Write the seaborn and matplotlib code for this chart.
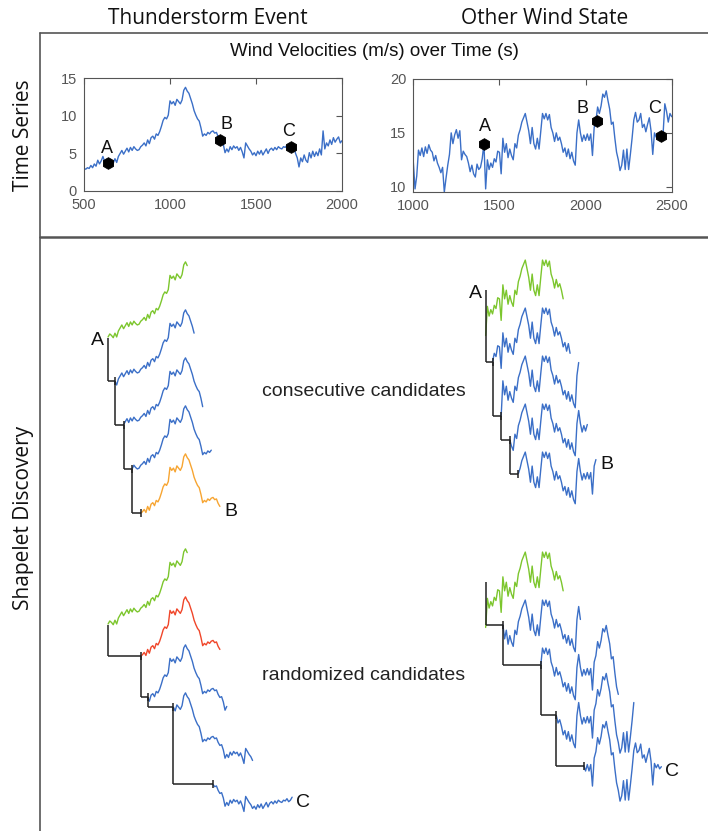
import numpy as np
import pandas as pd
import matplotlib.pyplot as plt
from matplotlib.lines import Line2D
import seaborn as sns

# Wind velocity series (m/s), sampled every 10 s
t_storm = np.arange(500, 2001, 10)
v_storm = [3.0, 2.9, 3.1, 3.0, 3.4, 3.1, 3.6, 3.3, 4.1, 3.6, 4.0,
           4.6, 3.9, 4.1, 3.8, 4.2, 4.0, 3.7, 4.3, 3.8, 4.6,
           5.0, 5.4, 4.9, 5.3, 5.7, 5.2, 5.8, 5.4, 5.9, 5.6,
           5.4, 5.5, 5.9, 6.1, 6.4, 6.0, 6.8, 6.3, 7.1, 7.3,
           6.9, 7.6, 7.4, 7.9, 8.6, 9.4, 9.8, 9.6, 10.1, 12.0,
           11.6, 11.9, 11.4, 12.2, 11.9, 11.6, 12.1, 13.4, 13.8, 13.3,
           13.0, 12.3, 11.6, 10.7, 10.1, 9.6, 9.3, 8.4, 7.3, 7.6,
           7.4, 7.8, 7.6, 7.9, 8.0, 7.7, 7.8, 7.2, 6.8, 6.9,
           6.2, 5.1, 5.6, 5.2, 5.9, 5.5, 6.0, 5.7, 5.9, 5.4,
           5.8, 5.2, 4.4, 6.4, 6.0, 5.6, 5.3, 4.8, 5.1, 4.7,
           5.3, 4.9, 5.4, 4.8, 5.2, 5.6, 5.0, 5.5, 5.7, 5.4,
           5.8, 5.5, 5.9, 5.7, 5.6, 5.9, 5.8, 6.1, 5.7, 5.9,
           6.3, 5.9, 5.0, 4.4, 3.2, 4.4, 3.9, 4.8, 4.1, 3.8,
           5.1, 4.4, 5.3, 4.6, 5.2, 4.7, 5.6, 4.8, 8.0, 5.6,
           6.4, 6.0, 6.8, 6.2, 7.1, 6.5, 6.9, 7.2, 6.4, 6.7]

t_other = np.arange(1000, 2501, 10)
v_other = [12.3, 9.8, 11.0, 13.4, 12.9, 13.6, 12.8, 13.7, 13.1, 13.9, 13.4,
           13.2, 12.4, 12.9, 12.2, 11.8, 11.3, 11.8, 9.5, 10.8, 12.0,
           13.0, 15.0, 14.0, 14.8, 15.3, 14.5, 15.2, 12.5, 13.3, 13.0,
           12.8, 12.2, 11.4, 12.0, 11.2, 10.9, 12.1, 11.6, 11.8, 12.6,
           14.0, 9.8, 12.5, 11.6, 12.2, 11.8, 12.6, 12.3, 13.3, 13.2,
           11.2, 14.5, 13.2, 14.0, 12.7, 13.5, 12.9, 12.5, 14.0, 13.6,
           14.8, 15.3, 16.0, 16.4, 16.8, 16.0, 15.2, 14.0, 15.5, 14.0,
           13.5, 14.5, 13.5, 15.2, 16.8, 16.3, 16.8, 16.2, 16.7, 15.5,
           15.0, 14.2, 15.0, 14.3, 14.6, 14.0, 13.2, 13.6, 12.8, 13.5,
           12.6, 13.2, 12.4, 12.0, 15.0, 16.2, 15.0, 14.2, 14.8, 14.3,
           14.9, 14.3, 14.9, 12.9, 15.5, 16.1, 17.4, 16.8, 17.5, 18.6,
           18.3, 18.9, 18.0, 17.2, 15.8, 16.0, 14.5, 13.2, 12.5, 11.5,
           12.0, 13.4, 11.6, 13.5, 11.6, 13.0, 14.5, 16.2, 16.9, 16.0,
           16.2, 16.8, 15.5, 15.8, 15.1, 15.8, 16.4, 15.2, 13.0, 15.0,
           14.6, 14.9, 14.5, 14.7, 14.9, 17.7, 17.0, 16.0, 16.8, 16.5]

# marked points A, B, C
pt_labels = ['A', 'B', 'C']
storm_pts_t = [640, 1290, 1705]
storm_pts_v = [3.7, 6.8, 5.9]
other_pts_t = [1410, 2065, 2440]
other_pts_v = [14.0, 16.1, 14.7]

# shapelet candidates (start times, s)
storm_len = 460
other_len = 450
storm_consec = [640, 680, 730, 780, 830]
storm_random = [640, 830, 870, 1020, 1250]
other_consec = [1420, 1460, 1510, 1560, 1610]
other_random = [1420, 1520, 1740, 1830, 1990]

BLUE, GREEN, ORANGE, RED = '#3b6fc7', '#7cc62d', '#f7a532', '#f0462a'
storm_consec_col = [GREEN, BLUE, BLUE, BLUE, ORANGE]
storm_random_col = [GREEN, RED, BLUE, BLUE, BLUE]
other_consec_col = [GREEN, BLUE, BLUE, BLUE, BLUE]
other_random_col = [GREEN, BLUE, BLUE, BLUE, BLUE]

sns.set_theme(style='white')
plt.rcParams['font.family'] = ['Liberation Sans', 'DejaVu Sans']

W, H = 708, 831
fig = plt.figure(figsize=(W / 100, H / 100), dpi=100)


def px_axes(x0, y0, x1, y1):
    # pixel box measured from the top-left corner
    return fig.add_axes([x0 / W, 1 - y1 / H, (x1 - x0) / W, (y1 - y0) / H])


def fig_line(x0, y0, x1, y1, lw):
    fig.add_artist(Line2D([x0 / W, x1 / W], [1 - y0 / H, 1 - y1 / H],
                          color='#555555', lw=lw, transform=fig.transFigure))


# frame
fig_line(40, 33, 708, 33, 1.2)
fig_line(40, 33, 40, 831, 1.2)
fig_line(40, 236.5, 708, 236.5, 1.8)

head = dict(family=['Open Sans', 'DejaVu Sans'], fontsize=15, color='#111111',
            ha='center', va='center')
fig.text(208 / W, 1 - 19 / H, 'Thunderstorm Event', **head)
fig.text(545 / W, 1 - 19 / H, 'Other Wind State', **head)
fig.text(24 / W, 1 - 135 / H, 'Time Series', rotation=90, **head)
fig.text(24 / W, 1 - 518 / H, 'Shapelet Discovery', rotation=90, **head)
fig.text(374 / W, 1 - 51 / H, 'Wind Velocities (m/s) over Time (s)',
         ha='center', va='center', fontsize=13.5, color='#111111')
fig.text(262 / W, 1 - 391 / H, 'consecutive candidates', ha='left', va='center',
         fontsize=14, color='#222222')
fig.text(262 / W, 1 - 675 / H, 'randomized candidates', ha='left', va='center',
         fontsize=14, color='#222222')


def time_series(ax, t, v, pts_t, pts_v, lbl_off, xlim, ylim, xt, yt):
    sns.lineplot(x=t, y=v, ax=ax, color=BLUE, lw=1.0)
    sns.scatterplot(x=pts_t, y=pts_v, ax=ax, color='black', marker='h', s=70,
                    edgecolor='black', zorder=5)
    for lab, x, y, off in zip(pt_labels, pts_t, pts_v, lbl_off):
        ax.annotate(lab, (x, y), xytext=off, textcoords='offset pixels',
                    ha='center', va='center', fontsize=13, color='#111111')
    ax.set_xlim(xlim)
    ax.set_ylim(ylim)
    ax.set_xticks(xt)
    ax.set_yticks(yt)
    ax.set_xlabel('')
    ax.set_ylabel('')
    ax.tick_params(direction='in', length=4, width=0.8, color='#555555',
                   labelcolor='#555555', labelsize=10.5, top=True, right=True, pad=5)
    for s in ax.spines.values():
        s.set_color('#555555')
        s.set_linewidth(0.8)


ax1 = px_axes(84, 78.3, 342, 191)
time_series(ax1, t_storm, v_storm, storm_pts_t, storm_pts_v,
            [(-1, 15), (7, 15), (-3, 15)], (500, 2000), (0, 15),
            [500, 1000, 1500, 2000], [0, 5, 10, 15])
ax2 = px_axes(413.3, 79, 671.7, 191.7)
time_series(ax2, t_other, v_other, other_pts_t, other_pts_v,
            [(1, 17), (-14, 13), (-7, 28)], (1000, 2500), (9.54, 20),
            [1000, 1500, 2000, 2500], [10, 15, 20])


def candidates(ax, t, v, starts, length, colors, base, step, unit_px,
               top_val, first_lab, last_lab):
    series = pd.Series(v, index=t)
    offs = [base + k * step for k in range(len(starts))]
    for k, s in enumerate(starts):
        seg = series.loc[s:s + length]
        sns.lineplot(x=seg.index, y=seg.values - offs[k], ax=ax,
                     color=colors[k], lw=1.0)
    start_y = [series.loc[s] - offs[k] for k, s in enumerate(starts)]
    tops = [top_val - offs[0]] + start_y[1:]
    cap = 4 / unit_px
    tree = dict(color='#222222', lw=1.1, solid_capstyle='butt')
    for k in range(len(starts) - 1):
        ax.plot([starts[k]] * 2, [tops[k], start_y[k + 1]], **tree)
        ax.plot([starts[k], starts[k + 1]], [start_y[k + 1]] * 2, **tree)
        ax.plot([starts[k + 1]] * 2, [start_y[k + 1] - cap, start_y[k + 1] + cap], **tree)
    if first_lab:
        ax.annotate(first_lab, (starts[0], tops[0]), xytext=(-4, -3),
                    textcoords='offset pixels', ha='right', va='center',
                    fontsize=14, color='#111111')
    end = starts[-1] + length
    ax.annotate(last_lab, (end, series.loc[end] - offs[-1]), xytext=(4, -5),
                textcoords='offset pixels', ha='left', va='center',
                fontsize=14, color='#111111')


# lower panels: same scale as the time series above
L_UNIT, R_UNIT = 7.51, 10.77
ax3 = px_axes(84, 240, 342, 831)
ax3.set_xlim(500, 2000)
ax3.set_ylim((365.5 - 831) / L_UNIT, (365.5 - 240) / L_UNIT)
candidates(ax3, t_storm, v_storm, storm_consec, storm_len, storm_consec_col,
           0, 48 / L_UNIT, L_UNIT, storm_pts_v[0], 'A', 'B')
candidates(ax3, t_storm, v_storm, storm_random, storm_len, storm_random_col,
           (652.5 - 365.5) / L_UNIT, 48 / L_UNIT, L_UNIT, storm_pts_v[0], None, 'C')
ax3.axis('off')

ax4 = px_axes(413.3, 240, 671.7, 831)
ax4.set_xlim(1000, 2500)
ax4.set_ylim((441 - 831) / R_UNIT, (441 - 240) / R_UNIT)
candidates(ax4, t_other, v_other, other_consec, other_len, other_consec_col,
           0, 48 / R_UNIT, R_UNIT, other_pts_v[0], 'A', 'B')
candidates(ax4, t_other, v_other, other_random, other_len, other_random_col,
           (733 - 441) / R_UNIT, 48 / R_UNIT, R_UNIT, other_pts_v[0], None, 'C')
ax4.axis('off')

fig.savefig('out.png', dpi=100)
